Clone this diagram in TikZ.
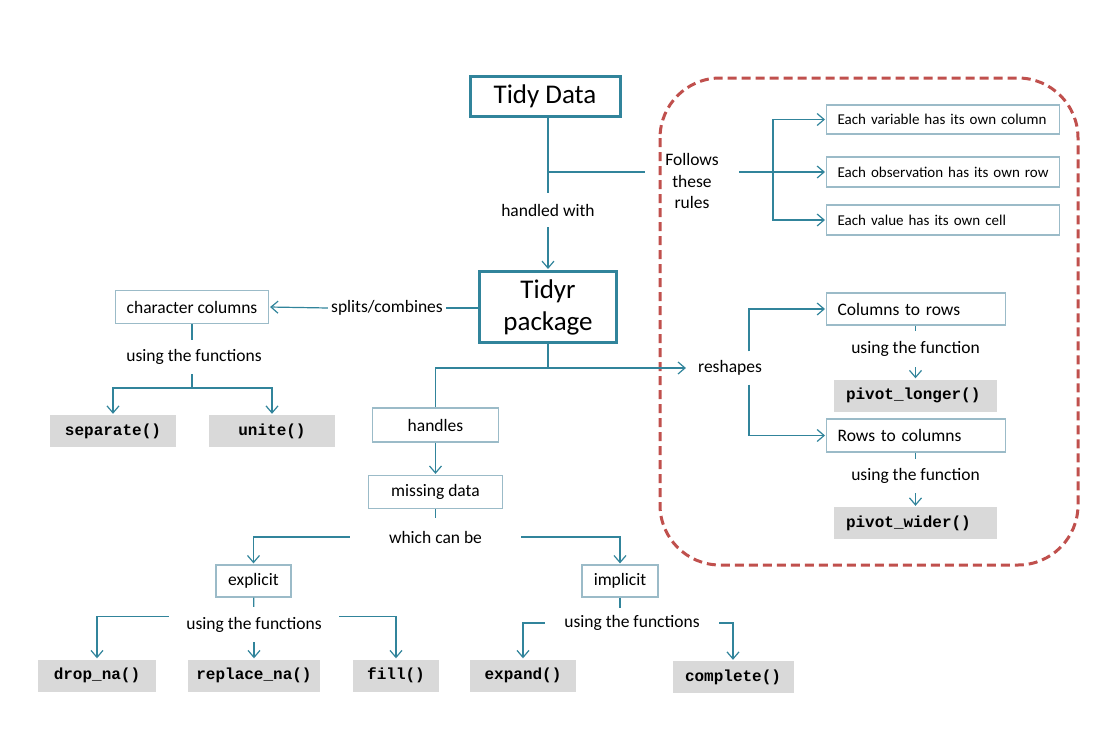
\documentclass[tikz,border=0pt]{standalone}
\usepackage{fontspec}
\setmainfont{Carlito}
\newfontfamily\codefont{Liberation Mono}
\usetikzlibrary{arrows.meta}

\definecolor{tealline}{HTML}{31849B}
\definecolor{thinbox}{HTML}{9BBBC8}
\definecolor{codegray}{HTML}{D9D9D9}
\definecolor{rulered}{HTML}{C0504D}

\tikzset{
  bigbox/.style={draw=tealline, line width=3pt, align=center, font=\fontsize{27}{32}\selectfont},
  box/.style={draw=thinbox, line width=1.2pt, minimum height=32pt, font=\fontsize{17.5}{20}\selectfont},
  rulebox/.style={draw=thinbox, line width=1.2pt, anchor=west, align=left, inner xsep=11pt, font=\fontsize{15}{18}\selectfont},
  fun/.style={fill=codegray, minimum height=32pt, font=\codefont\bfseries\fontsize{16}{19}\selectfont},
  lbl/.style={inner sep=0pt, font=\fontsize{17.5}{20}\selectfont},
  link/.style={draw=tealline, line width=1.2pt},
  arr/.style={link, shorten >=1pt, -{Straight Barb[length=7pt, width=12pt]}},
}

\begin{document}
\begin{tikzpicture}[x=1pt, y=-1pt]
\useasboundingbox (0,0) rectangle (1116,744);

% rules frame
\draw [rulered, line width=3pt, dash pattern=on 9pt off 5pt, rounded corners=60pt] (660,78) rectangle (1078,565);

% top part
\node [bigbox, minimum width=150pt, minimum height=40pt] (tidy) at (545,96.5) {Tidy Data};
\node [lbl, minimum height=34pt] (handled) at (548,210) {handled with};
\node [bigbox, minimum width=137pt, minimum height=71pt] (tidyr) at (548,307) {Tidyr\\package};
\node [lbl, minimum width=94pt, align=center, font=\fontsize{17.5}{21.5}\selectfont] (follows) at (692,181) {Follows\\these\\rules};
\node [rulebox, text width=211pt, minimum height=29pt] (rule1) at (826,119.5) {Each variable has its own column};
\node [rulebox, text width=211pt, minimum height=30pt] (rule2) at (826,172) {Each observation has its own row};
\node [rulebox, text width=211pt, minimum height=30pt] (rule3) at (826,220) {Each value has its own cell};
\coordinate (j1) at (548,172);
\coordinate (j2) at (773,172);

\draw [link] (tidy.south -| handled) -- (handled);
\draw [arr] (handled) -- (tidyr);
\draw [link] (j1) -- (j1 -| follows.west);
\draw [arr] (follows.east |- j1) -- (rule2.west);
\draw [arr] (j2) |- (rule1.west);
\draw [arr] (j2) |- (rule3.west);

% character columns
\node [lbl, inner xsep=3pt] (splits) at (387,308) {splits/combines};
\node [box, minimum width=153pt, minimum height=33pt] (charcol) at (192,307) {character columns};
\node [lbl, minimum height=34pt] (using1) at (194,357) {using the functions};
\node [fun, minimum width=126pt] (separate) at (113,431) {separate()};
\node [fun, minimum width=126pt] (unite) at (272,431) {unite()};
\coordinate (j3) at (192,388);

\draw [link] (tidyr.west |- splits) -- (splits.east);
\draw [arr] (splits.west) -- (charcol.east);
\draw [link] (charcol) -- (charcol |- using1.north);
\draw [link] (using1.south -| j3) -- (j3);
\draw [arr] (j3) -| (separate);
\draw [arr] (j3) -| (unite);

% reshapes
\node [lbl, minimum height=33pt, inner xsep=11pt] (reshapes) at (730,368) {reshapes};
\node [rulebox, text width=157pt, minimum height=32pt, font=\fontsize{17.5}{20}\selectfont] (colrows) at (826,309) {Columns to rows};
\node [lbl, minimum height=36pt] (fn1) at (915.5,349) {using the function};
\node [fun, minimum width=163pt, text width=139pt, inner xsep=12pt, align=left] (pivlong) at (915.5,395.5) {pivot\_longer()};
\node [rulebox, text width=157pt, minimum height=33pt, font=\fontsize{17.5}{20}\selectfont] (rowcols) at (826,435.5) {Rows to columns};
\node [lbl, minimum height=34pt] (fn2) at (915.5,476) {using the function};
\node [fun, minimum width=163pt, text width=139pt, inner xsep=12pt, align=left] (pivwide) at (915.5,523) {pivot\_wider()};
\coordinate (j4) at (548,368);
\coordinate (j5) at (749,368);

\draw [link] (tidyr) -- (j4);
\draw [arr] (j4) -- (reshapes);
\draw [arr] (reshapes.north -| j5) |- (colrows.west);
\draw [arr] (reshapes.south -| j5) |- (rowcols.west);
\draw [link] (colrows.south -| fn1) -- (fn1);
\draw [arr] (fn1) -- (pivlong);
\draw [link] (rowcols.south -| fn2) -- (fn2);
\draw [arr] (fn2) -- (pivwide);

% missing data
\node [box, minimum width=126pt, minimum height=34pt] (handles) at (435.5,425) {handles};
\node [box, minimum width=134pt, minimum height=33pt] (missing) at (435.5,492) {missing data};
\node [lbl, minimum width=171pt, minimum height=38pt] (which) at (435.5,537) {which can be};
\node [box, minimum width=75pt] (explicit) at (253.5,581) {explicit};
\node [box, minimum width=76pt] (implicit) at (620,581) {implicit};

\draw [link] (j4) -| (handles);
\draw [arr] (handles) -- (missing);
\draw [link] (missing) -- (which);
\draw [arr] (which.west) -| (explicit);
\draw [arr] (which.east) -| (implicit);

% functions for missing data
\node [lbl, minimum width=170pt, minimum height=35pt] (using2) at (254,624.5) {using the functions};
\node [fun, minimum width=118pt] (dropna) at (97,675.5) {drop\_na()};
\node [fun, minimum width=132pt] (replna) at (254,675.5) {replace\_na()};
\node [fun, minimum width=86pt] (fill) at (396,675.5) {fill()};
\node [lbl, minimum width=174pt, minimum height=30pt] (using3) at (632,623) {using the functions};
\node [fun, minimum width=106pt] (expand) at (523,675.5) {expand()};
\node [fun, minimum width=121pt] (complete) at (733,677) {complete()};

\draw [link] (explicit) -- (using2);
\draw [arr] ([yshift=8pt]using2.west) -| (dropna);
\draw [arr] (using2) -- (replna);
\draw [arr] ([yshift=8pt]using2.east) -| (fill);
\draw [link] (implicit.south) -- (implicit.south |- using3.north);
\draw [arr] (using3.west) -| (expand);
\draw [arr] (using3.east) -| (complete);
\end{tikzpicture}
\end{document}
